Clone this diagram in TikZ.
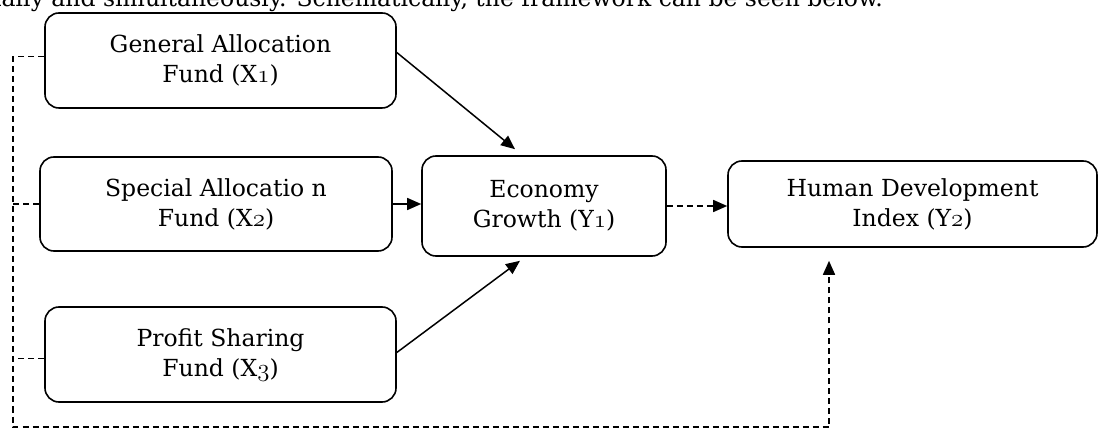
\documentclass[tikz,border=0pt]{standalone}
\usepackage{fontspec}
\setmainfont{DejaVu Serif}
\usepackage{tikz}
\usetikzlibrary{arrows.meta,positioning}
\newcommand{\osn}[1]{\legacyoldstylenums{#1}}
\tikzset{
  fundbox/.style={draw, rounded corners=14pt, line width=1.6pt, align=center,
    font=\fontsize{23.5}{30}\selectfont},
  link/.style={line width=1.5pt, -{Triangle[length=14pt,width=12pt]}},
  feed/.style={line width=1.5pt, dash pattern=on 6pt off 4pt}
}
\begin{document}
\begin{tikzpicture}[x=1pt,y=1pt]
                \useasboundingbox (0,0) rectangle (1099,428);
                \clip (0,0) rectangle (1099,428);
                \node[anchor=base west, font=\fontsize{23.5}{30}\selectfont, inner sep=0pt] (intro) at (-6,421)
                  {ially and simultaneously. Schematically, the framework can be seen below.};
                \node[fundbox, minimum width=351pt, minimum height=95pt] (X1) at (220.5,367.5)
                  {General Allocation\\ Fund (X\osn{1})};
                \node[fundbox, minimum width=352pt, minimum height=94pt] (X2) at (216,224)
                  {Special Allocatio n\\ Fund (X\osn{2})};
                \node[fundbox, minimum width=351pt, minimum height=95pt] (X3) at (220.5,73.5)
                  {Profit Sharing\\ Fund (X\osn{3})};
                \node[fundbox, minimum width=244pt, minimum height=100pt] (EG) at (544,222)
                  {Economy\\ Growth (Y\osn{1})};
                \node[fundbox, minimum width=369pt, minimum height=86pt] (HDI) at (912.5,224)
                  {Human Development\\ Index (Y\osn{2})};
                \coordinate (corner) at (13,1);
                \draw[link] ([yshift=8pt]X1.east) -- ([xshift=-29pt,yshift=6pt]EG.north);
                \draw[link] (X2.east) -- (X2.east -| EG.west);
                \draw[link] ([yshift=2pt]X3.east) -- ([xshift=-24pt,yshift=-4pt]EG.south);
                \draw[link, feed] (EG.east) -- (EG.east -| HDI.west);
                \draw[feed] ([yshift=4pt]X1.west) -- ([yshift=4pt]X1.west -| corner);
                \draw[feed] (X2.west) -- (X2.west -| corner);
                \draw[feed] ([yshift=-4pt]X3.west) -- ([yshift=-4pt]X3.west -| corner);
                \draw[link, feed] ([yshift=4pt]X1.west -| corner) -- (corner)
                  -| ([xshift=-83.5pt,yshift=-13pt]HDI.south);
            \end{tikzpicture}
\end{document}
